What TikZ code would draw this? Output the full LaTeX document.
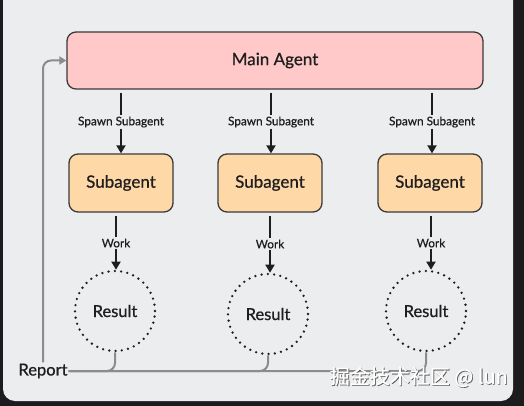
\documentclass[tikz,border=0pt]{standalone}
\usepackage{fontspec}
\setmainfont{Lato}
\newfontfamily\medfont{Lato}[FakeBold=0.7]
\newfontfamily\cjkfont{Noto Sans CJK SC}[FakeBold=0.6]
\usetikzlibrary{arrows.meta}
\definecolor{outerbg}{HTML}{1C1C1E}
\definecolor{panelbg}{HTML}{ECEDEF}
\definecolor{pinkfill}{HTML}{FFC9C9}
\definecolor{orangefill}{HTML}{FFD8A8}
\definecolor{edgecol}{HTML}{3A3A3A}
\definecolor{inkcol}{HTML}{1E1E1E}
\definecolor{graycol}{HTML}{8A8C8F}
\tikzset{
  mainbox/.style={draw=edgecol, line width=1.3pt, fill=pinkfill, rounded corners=9pt,
    minimum width=416pt, minimum height=57pt, text=inkcol, font=\medfont\fontsize{17}{19}\selectfont},
  subbox/.style={draw=edgecol, line width=1.3pt, fill=orangefill, rounded corners=9pt,
    minimum width=104pt, minimum height=58pt, text=inkcol, font=\medfont\fontsize{17}{19}\selectfont},
  resultcirc/.style={circle, draw=inkcol, line width=2.6pt, dash pattern=on 0pt off 6.3pt, line cap=round,
    minimum size=80pt, text=inkcol, font=\medfont\fontsize{16.5}{18}\selectfont},
  lbl/.style={text=inkcol, font=\medfont\fontsize{11.8}{13}\selectfont, inner sep=1pt},
  arr/.style={draw=inkcol, line width=1.8pt, -{Triangle[length=8pt,width=9pt]}},
  plainline/.style={draw=inkcol, line width=1.8pt},
  grayline/.style={draw=graycol, line width=2pt, rounded corners=8pt},
}
\begin{document}
\begin{tikzpicture}[x=1pt,y=-1pt]
\useasboundingbox (0,0) rectangle (524,406);
\fill[outerbg] (0,0) rectangle (524,406);
\fill[panelbg, rounded corners=12pt] (3,-14) rectangle (513,401);

\node[mainbox] (main) at (275,60.5) {Main Agent};

\node[subbox] (sub1) at (121,183) {Subagent};
\node[subbox] (sub2) at (270,183) {Subagent};
\node[subbox] (sub3) at (430,183) {Subagent};

\node[lbl] (sp1) at (121,122) {Spawn Subagent};
\node[lbl] (sp2) at (271,122) {Spawn Subagent};
\node[lbl] (sp3) at (432,122) {Spawn Subagent};

\node[resultcirc] (res1) at (115,311) {Result};
\node[resultcirc] (res2) at (268,314) {Result};
\node[resultcirc] (res3) at (426,311) {Result};

\node[lbl] (wk1) at (116,243) {Work};
\node[lbl] (wk2) at (270,244) {Work};
\node[lbl] (wk3) at (431,243) {Work};

\node[text=inkcol, font=\medfont\fontsize{16.5}{18}\selectfont, inner sep=1pt] (report) at (43,371) {Report};

% spawn connectors
\foreach \s/\b in {sp1/sub1, sp2/sub2, sp3/sub3}{
  \draw[plainline, shorten <=3pt] (main.south -| \s) -- (\s.north);
  \draw[arr] (\s.south) -- (\b.north -| \s);
}
% work connectors
\foreach \w/\b/\r in {wk1/sub1/res1, wk2/sub2/res2, wk3/sub3/res3}{
  \draw[plainline, shorten <=3pt] (\b.south -| \w) -- (\w.north);
  \draw[arr] (\w.south) -- (\r.north -| \w);
}
% report bus
\foreach \r in {res3, res2, res1}{
  \draw[grayline] (\r.south) |- (report.east);
}
\draw[grayline, -{Triangle[length=7pt,width=8pt]}] (report.north) |- (main.west);

% watermark
\node[text=gray!70!black, font=\cjkfont\fontsize{20}{22}\selectfont, anchor=east, inner sep=0pt] (wmshadow) at (508.8,377.8) {掘金技术社区 @ lun};
\node[text=white, font=\cjkfont\fontsize{20}{22}\selectfont, anchor=east, inner sep=0pt] (wm) at (508,377) {掘金技术社区 @ lun};
\end{tikzpicture}
\end{document}
